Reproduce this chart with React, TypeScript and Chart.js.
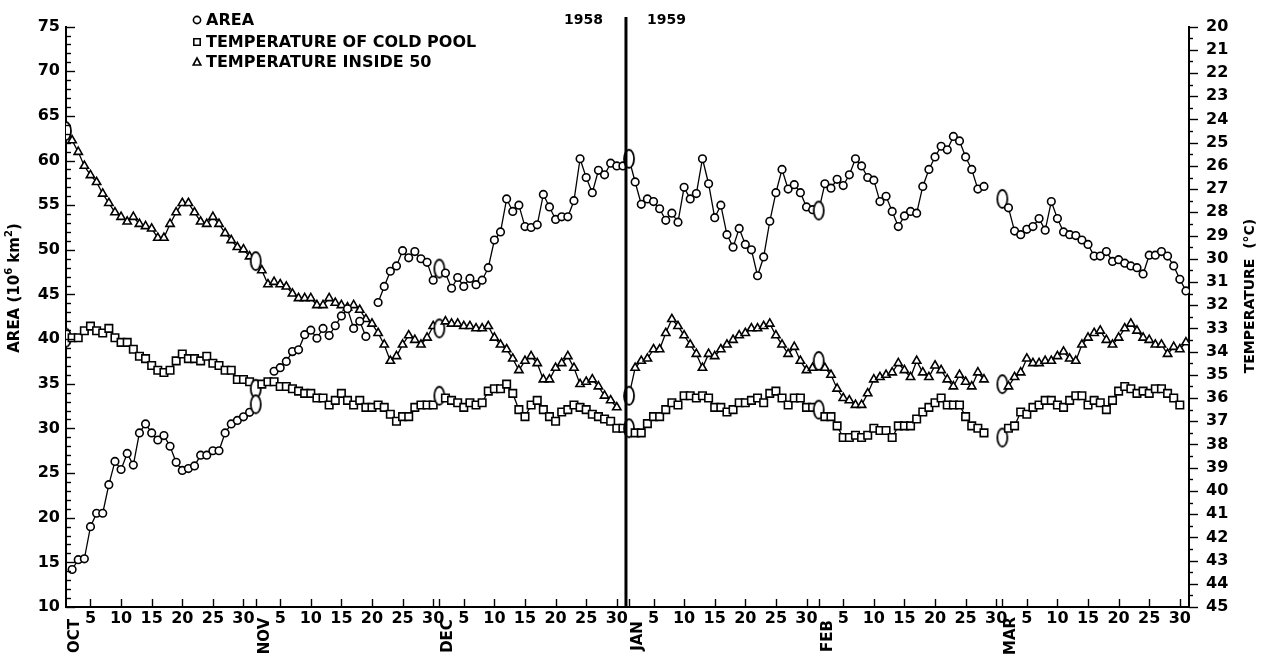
import React, { useEffect, useRef } from 'react';
import { Chart, registerables } from 'chart.js';

Chart.register(...registerables);

// Time axis layout: one slot per day, February is spread over 30 slots on this axis
const MONTHS = ['OCT', 'NOV', 'DEC', 'JAN', 'FEB', 'MAR'];
const MONTH_SLOTS = [31, 30, 31, 31, 30, 31];
const TICK_DAYS = [5, 10, 15, 20, 25, 30];
const YEARS = ['1958', '1959'];
const SERIES_NAMES = ['AREA', 'TEMPERATURE OF COLD POOL', 'TEMPERATURE INSIDE 50'];

// Area of the cold pool (10^6 km^2), one value per day
const areaOct = [null, 14.2, 15.3, 15.4, 19.0, 20.5, 20.5, 23.7, 26.3, 25.4, 27.2, 25.9, 29.5, 30.5, 29.5, 28.7, 29.2, 28.0, 26.2, 25.3, 25.5, 25.8, 27.0, 27.0, 27.5, 27.5, 29.5, 30.5, 30.9, 31.3, 31.8];
const areaNov = [32.7, null, null, 36.4, 36.8, 37.5, 38.6, 38.8, 40.5, 41.0, 40.1, 41.2, 40.4, 41.5, 42.6, 43.4, 41.2, 42.0, 40.3, null, 44.1, 45.9, 47.6, 48.2, 49.9, 49.1, 49.8, 49.0, 48.6, 46.6];
const areaDec = [47.9, 47.4, 45.7, 46.9, 45.9, 46.8, 46.1, 46.6, 48.0, 51.1, 52.0, 55.7, 54.3, 55.0, 52.6, 52.5, 52.8, 56.2, 54.8, 53.4, 53.7, 53.7, 55.5, 60.2, 58.1, 56.4, 58.9, 58.4, 59.7, 59.4, 59.4];
const areaJan = [60.2, 57.6, 55.1, 55.7, 55.4, 54.6, 53.3, 54.1, 53.1, 57.0, 55.7, 56.3, 60.2, 57.4, 53.6, 55.0, 51.7, 50.3, 52.4, 50.6, 50.0, 47.1, 49.2, 53.2, 56.4, 59.0, 56.8, 57.3, 56.4, 54.8, 54.5];
const areaFeb = [54.4, 57.4, 56.9, 57.9, 57.2, 58.4, 60.2, 59.4, 58.1, 57.8, 55.4, 56.0, 54.3, 52.6, 53.8, 54.3, 54.1, 57.1, 59.0, 60.4, 61.6, 61.2, 62.7, 62.2, 60.4, 59.0, 56.8, 57.1];
const areaMar = [55.7, 54.7, 52.1, 51.7, 52.3, 52.6, 53.5, 52.2, 55.4, 53.5, 52.0, 51.7, 51.6, 51.1, 50.6, 49.3, 49.3, 49.8, 48.7, 48.9, 48.5, 48.2, 48.0, 47.3, 49.4, 49.4, 49.8, 49.3, 48.2, 46.7, 45.4];

// Temperature of the cold pool (°C below zero)
const poolOct = [33.4, 33.4, 33.4, 33.1, 32.9, 33.1, 33.2, 33.0, 33.4, 33.6, 33.6, 33.9, 34.2, 34.3, 34.6, 34.8, 34.9, 34.8, 34.4, 34.1, 34.3, 34.3, 34.4, 34.2, 34.5, 34.6, 34.8, 34.8, 35.2, 35.2, 35.3];
const poolNov = [35.6, 35.4, 35.3, 35.3, 35.5, 35.5, 35.6, 35.7, 35.8, 35.8, 36.0, 36.0, 36.3, 36.1, 35.8, 36.1, 36.3, 36.1, 36.4, 36.4, 36.3, 36.4, 36.7, 37.0, 36.8, 36.8, 36.4, 36.3, 36.3, 36.3];
const poolDec = [35.9, 36.0, 36.1, 36.2, 36.4, 36.2, 36.3, 36.2, 35.7, 35.6, 35.6, 35.4, 35.8, 36.5, 36.8, 36.3, 36.1, 36.5, 36.8, 37.0, 36.6, 36.5, 36.3, 36.4, 36.5, 36.7, 36.8, 36.9, 37.0, 37.3, 37.3];
const poolJan = [37.3, 37.5, 37.5, 37.1, 36.8, 36.8, 36.5, 36.2, 36.3, 35.9, 35.9, 36.0, 35.9, 36.0, 36.4, 36.4, 36.6, 36.5, 36.2, 36.2, 36.1, 36.0, 36.2, 35.8, 35.7, 36.0, 36.3, 36.0, 36.0, 36.4, 36.4];
const poolFeb = [36.5, 36.8, 36.8, 37.2, 37.7, 37.7, 37.6, 37.7, 37.6, 37.3, 37.4, 37.4, 37.7, 37.2, 37.2, 37.2, 36.9, 36.6, 36.4, 36.2, 36.0, 36.3, 36.3, 36.3, 36.8, 37.2, 37.3, 37.5];
const poolMar = [37.7, 37.3, 37.2, 36.6, 36.7, 36.4, 36.3, 36.1, 36.1, 36.3, 36.4, 36.1, 35.9, 35.9, 36.3, 36.1, 36.2, 36.5, 36.1, 35.7, 35.5, 35.6, 35.8, 35.7, 35.8, 35.6, 35.6, 35.8, 36.0, 36.3, null];

// Temperature inside the 50 isoline (°C below zero)
const insideOct = [24.5, 24.9, 25.4, 26.0, 26.4, 26.7, 27.2, 27.6, 28.0, 28.2, 28.4, 28.2, 28.5, 28.6, 28.7, 29.1, 29.1, 28.5, 28.0, 27.6, 27.6, 28.0, 28.4, 28.5, 28.2, 28.5, 28.9, 29.2, 29.5, 29.6, 29.9];
const insideNov = [30.1, 30.5, 31.1, 31.0, 31.1, 31.2, 31.5, 31.7, 31.7, 31.7, 32.0, 32.0, 31.7, 31.9, 32.0, 32.1, 32.0, 32.2, 32.6, 32.8, 33.2, 33.7, 34.4, 34.2, 33.7, 33.3, 33.5, 33.7, 33.4, 32.9];
const insideDec = [33.0, 32.7, 32.8, 32.8, 32.9, 32.9, 33.0, 33.0, 32.9, 33.4, 33.7, 33.9, 34.3, 34.8, 34.4, 34.2, 34.5, 35.2, 35.2, 34.7, 34.5, 34.2, 34.7, 35.4, 35.3, 35.2, 35.5, 35.9, 36.1, 36.4, null];
const insideJan = [35.9, 34.7, 34.4, 34.3, 33.9, 33.9, 33.2, 32.6, 32.9, 33.3, 33.7, 34.1, 34.7, 34.1, 34.2, 33.9, 33.7, 33.5, 33.3, 33.2, 33.0, 33.0, 32.9, 32.8, 33.3, 33.7, 34.1, 33.8, 34.4, 34.8, 34.7];
const insideFeb = [34.4, 34.7, 35.0, 35.6, 36.0, 36.1, 36.3, 36.3, 35.8, 35.2, 35.1, 35.0, 34.9, 34.5, 34.8, 35.1, 34.4, 34.9, 35.1, 34.6, 34.8, 35.2, 35.5, 35.0, 35.3, 35.5, 34.9, 35.2];
const insideMar = [35.4, 35.5, 35.1, 34.9, 34.3, 34.5, 34.5, 34.4, 34.4, 34.2, 34.0, 34.3, 34.4, 33.7, 33.4, 33.2, 33.1, 33.5, 33.7, 33.4, 33.0, 32.8, 33.1, 33.4, 33.5, 33.7, 33.7, 34.1, 33.8, 33.9, 33.6];

const INK = '#000';
const FONT = '"DejaVu Sans", "Liberation Sans", sans-serif';

const MONTH_START = MONTH_SLOTS.map((_, i) => MONTH_SLOTS.slice(0, i).reduce((s, n) => s + n, 0));
const X_MAX = MONTH_START[MONTH_START.length - 1] + MONTH_SLOTS[MONTH_SLOTS.length - 1] - 0.5;
const X_TICKS = MONTH_START.flatMap((s) => TICK_DAYS.map((d) => ({ value: s + d - 1, label: String(d) })));
const X_LABEL = new Map(X_TICKS.map((t) => [t.value, t.label]));

type Pt = { x: number; y: number | null };

function toPoints(months: (number | null)[][]): Pt[] {
  const pts: Pt[] = [];
  months.forEach((vals, m) => {
    for (let d = 0; d < MONTH_SLOTS[m]; d++) {
      pts.push({ x: MONTH_START[m] + d, y: d < vals.length ? vals[d] : null });
    }
  });
  return pts;
}

function makeOval(): HTMLCanvasElement {
  const c = document.createElement('canvas');
  c.width = 14;
  c.height = 22;
  const g = c.getContext('2d')!;
  g.beginPath();
  g.ellipse(7, 11, 5, 9, 0, 0, Math.PI * 2);
  g.fillStyle = '#fff';
  g.fill();
  g.lineWidth = 1.8;
  g.strokeStyle = INK;
  g.stroke();
  return c;
}

const decorations = {
  id: 'decorations',
  afterDatasetsDraw(chart: any) {
    const { ctx, chartArea: a } = chart;
    const xs = chart.scales.x;
    const ys = chart.scales.y;
    const ts = chart.scales.y2;
    const seg = (x1: number, y1: number, x2: number, y2: number) => {
      ctx.beginPath();
      ctx.moveTo(x1, y1);
      ctx.lineTo(x2, y2);
      ctx.stroke();
    };
    ctx.save();
    ctx.strokeStyle = INK;
    ctx.fillStyle = INK;

    // inner ticks on the area axis
    ctx.lineWidth = 1.4;
    for (let v = 10; v <= 75; v++) {
      const py = Math.round(ys.getPixelForValue(v)) + 0.5;
      seg(a.left, py, a.left + (v % 5 === 0 ? 9 : 5), py);
    }
    // outer ticks on the temperature axis
    for (let k = 0; k <= 50; k++) {
      const py = Math.round(ts.getPixelForValue(20 + k / 2)) + 0.5;
      seg(a.right, py, a.right + (k % 2 === 0 ? 9 : 4), py);
    }
    // ticks along the time axis
    X_TICKS.forEach((t) => {
      const px = Math.round(xs.getPixelForValue(t.value)) + 0.5;
      seg(px, a.bottom, px, a.bottom - 8);
    });
    MONTH_START.slice(1).forEach((s) => {
      const px = Math.round(xs.getPixelForValue(s)) + 0.5;
      seg(px, a.bottom, px, a.bottom - 8);
    });

    // month names
    ctx.font = `bold 15px ${FONT}`;
    ctx.textAlign = 'center';
    ctx.textBaseline = 'middle';
    MONTHS.forEach((m, i) => {
      const px = xs.getPixelForValue(MONTH_START[i] + 1.5);
      ctx.save();
      ctx.translate(px, 636);
      ctx.rotate(-Math.PI / 2);
      ctx.fillText(m, 0, 0);
      ctx.restore();
    });

    // year divider
    const jx = xs.getPixelForValue(MONTH_START[3] - 0.5);
    ctx.lineWidth = 3;
    seg(jx, 17, jx, a.bottom);
    ctx.font = `bold 14px ${FONT}`;
    ctx.textAlign = 'right';
    ctx.fillText(YEARS[0], jx - 23, 20);
    ctx.textAlign = 'left';
    ctx.fillText(YEARS[1], jx + 21, 20);

    // legend
    const lx = 197;
    const rows = [20, 42, 62];
    ctx.lineWidth = 1.6;
    ctx.fillStyle = '#fff';
    ctx.beginPath();
    ctx.arc(lx, rows[0], 3.6, 0, Math.PI * 2);
    ctx.fill();
    ctx.stroke();
    ctx.beginPath();
    ctx.rect(lx - 3.2, rows[1] - 3.2, 6.4, 6.4);
    ctx.fill();
    ctx.stroke();
    ctx.beginPath();
    ctx.moveTo(lx, rows[2] - 4);
    ctx.lineTo(lx + 3.8, rows[2] + 3);
    ctx.lineTo(lx - 3.8, rows[2] + 3);
    ctx.closePath();
    ctx.fill();
    ctx.stroke();
    ctx.fillStyle = INK;
    ctx.font = `bold 16px ${FONT}`;
    ctx.textAlign = 'left';
    SERIES_NAMES.forEach((n, i) => ctx.fillText(n, 206, rows[i] + 1));

    // axis titles
    const big = 15;
    const small = 10;
    const parts: [string, boolean][] = [['AREA (10', false], ['6', true], [' km', false], ['2', true], [')', false]];
    const widthOf = (p: [string, boolean]) => {
      ctx.font = `bold ${p[1] ? small : big}px ${FONT}`;
      return ctx.measureText(p[0]).width;
    };
    const total = parts.reduce((s, p) => s + widthOf(p), 0);
    ctx.save();
    ctx.translate(15, 288);
    ctx.rotate(-Math.PI / 2);
    ctx.textAlign = 'left';
    ctx.textBaseline = 'middle';
    let cx = -total / 2;
    parts.forEach((p) => {
      const w = widthOf(p);
      ctx.fillText(p[0], cx, p[1] ? -6 : 0);
      cx += w;
    });
    ctx.restore();

    ctx.save();
    ctx.translate(1250, 296);
    ctx.rotate(-Math.PI / 2);
    ctx.font = `bold 14px ${FONT}`;
    ctx.textAlign = 'center';
    ctx.textBaseline = 'middle';
    ctx.fillText('TEMPERATURE  (°C)', 0, 0);
    ctx.restore();

    ctx.restore();
  },
};

export default function App() {
  const ref = useRef<HTMLCanvasElement | null>(null);

  useEffect(() => {
    const canvas = ref.current;
    if (!canvas) return;
    const oval = makeOval();
    const isStart = (c: any) => c.raw && MONTH_START.includes(c.raw.x);
    const common = {
      borderColor: INK,
      borderWidth: 1.3,
      pointBackgroundColor: '#fff',
      pointBorderColor: INK,
      pointBorderWidth: 1.6,
      spanGaps: false,
      tension: 0,
    };
    const tickFont = { family: FONT, size: 16, weight: 'bold' as const };

    const chart = new Chart(canvas, {
      type: 'line',
      data: {
        datasets: [
          {
            ...common,
            label: SERIES_NAMES[0],
            data: toPoints([areaOct, areaNov, areaDec, areaJan, areaFeb, areaMar]),
            yAxisID: 'y',
            pointStyle: (c: any) => (isStart(c) ? oval : 'circle'),
            pointRadius: 3.8,
          },
          {
            ...common,
            label: SERIES_NAMES[1],
            data: toPoints([poolOct, poolNov, poolDec, poolJan, poolFeb, poolMar]),
            yAxisID: 'y2',
            pointStyle: (c: any) => (isStart(c) ? oval : 'rect'),
            pointRadius: 5.3,
          },
          {
            ...common,
            label: SERIES_NAMES[2],
            data: toPoints([insideOct, insideNov, insideDec, insideJan, insideFeb, insideMar]),
            yAxisID: 'y2',
            pointStyle: (c: any) => (isStart(c) ? oval : 'triangle'),
            pointRadius: 4.8,
          },
        ] as any,
      },
      options: {
        animation: false,
        responsive: false,
        devicePixelRatio: 1,
        events: [],
        layout: { padding: { top: 19, left: 0, right: 0, bottom: 0 } },
        plugins: { legend: { display: false }, tooltip: { enabled: false } },
        scales: {
          x: {
            type: 'linear',
            min: 0,
            max: X_MAX,
            afterBuildTicks: (s: any) => {
              s.ticks = X_TICKS.map((t) => ({ value: t.value }));
            },
            afterFit: (s: any) => {
              s.height = 49;
            },
            ticks: {
              autoSkip: false,
              maxRotation: 0,
              color: INK,
              font: tickFont,
              padding: 2,
              callback: (v: any) => X_LABEL.get(v) ?? '',
            },
            grid: { display: false, drawTicks: false },
            border: { display: true, color: INK, width: 2 },
          },
          y: {
            type: 'linear',
            position: 'left',
            min: 10,
            max: 75,
            afterFit: (s: any) => {
              s.width = 66;
            },
            ticks: { stepSize: 5, color: INK, font: tickFont, padding: 6 },
            grid: { display: false, drawTicks: false },
            border: { display: true, color: INK, width: 2 },
          },
          y2: {
            type: 'linear',
            position: 'right',
            reverse: true,
            min: 20,
            max: 45,
            afterFit: (s: any) => {
              s.width = 76;
            },
            ticks: { stepSize: 1, color: INK, font: tickFont, padding: 17 },
            grid: { display: false, drawTicks: false },
            border: { display: true, color: INK, width: 2 },
          },
        },
      } as any,
      plugins: [decorations],
    });
    return () => chart.destroy();
  }, []);

  return (
    <div style={{ position: 'absolute', left: 0, top: 0, width: 1265, height: 656, background: '#fff' }}>
      <canvas ref={ref} width={1265} height={656} style={{ width: 1265, height: 656, display: 'block' }} />
    </div>
  );
}
